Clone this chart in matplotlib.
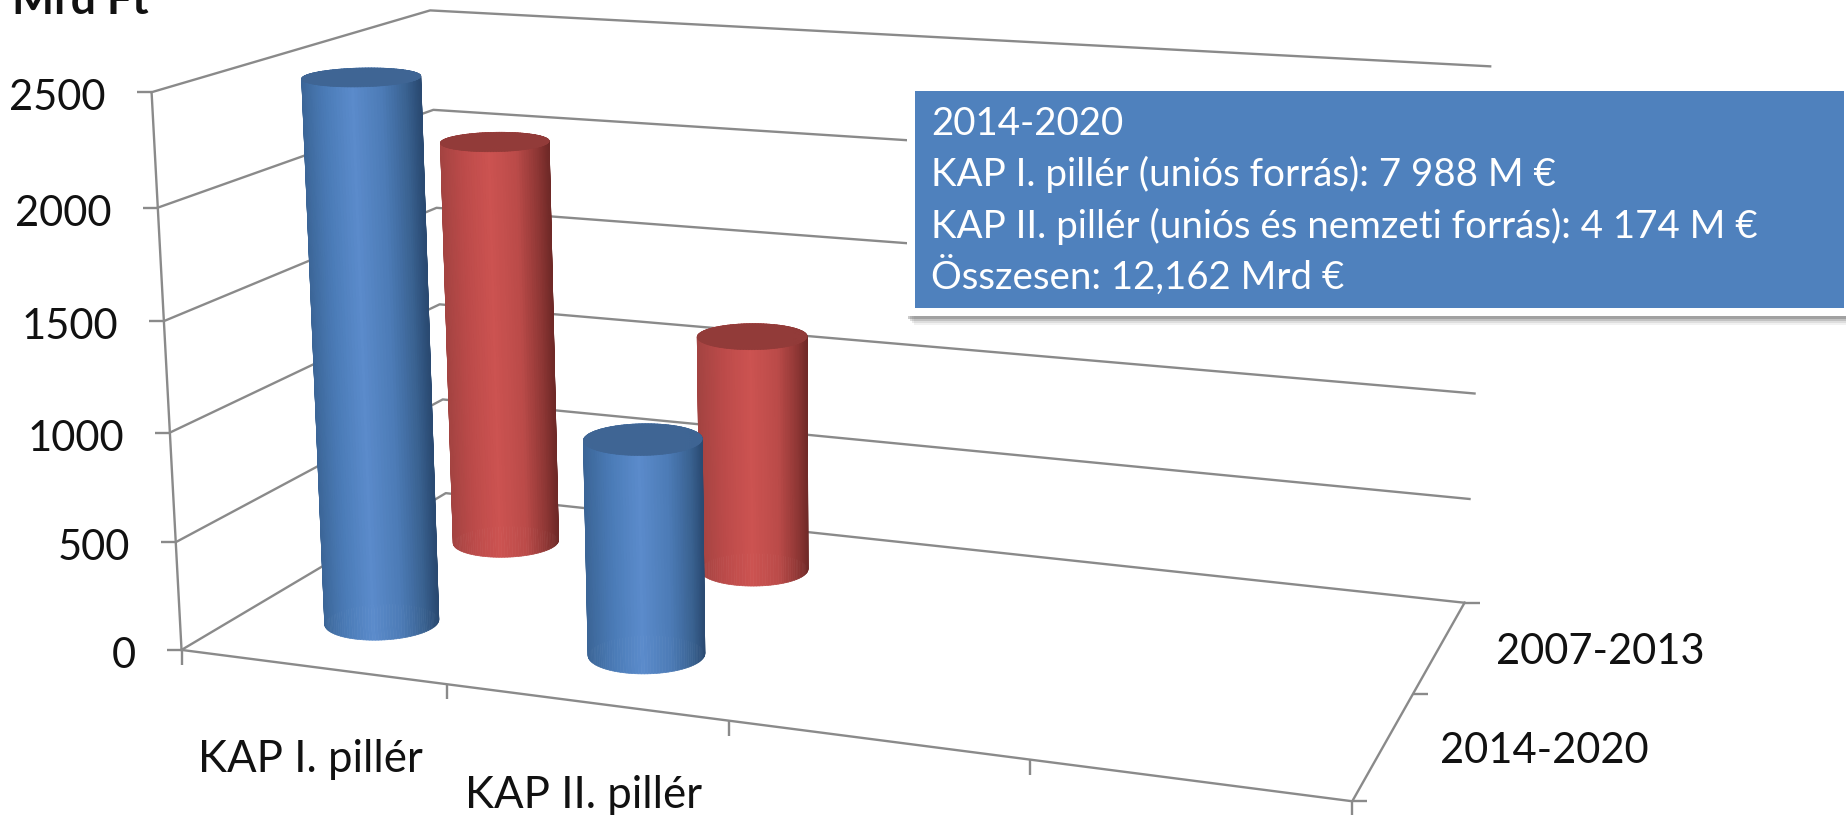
import numpy as np
import matplotlib
matplotlib.use("Agg")
import matplotlib.pyplot as plt
from matplotlib.colors import LinearSegmentedColormap
from matplotlib.markers import TICKLEFT, TICKRIGHT, TICKDOWN
from matplotlib.patches import Rectangle
from mpl_toolkits.mplot3d import proj3d

plt.rcParams['font.family'] = ['Lato', 'DejaVu Sans']

categories = ['KAP I. pillér', 'KAP II. pillér']
periods = ['2014-2020', '2007-2013']
values_2014 = [2500, 985]
values_2007 = [1990, 1145]
value_ticks = [0, 500, 1000, 1500, 2000, 2500]
box_lines = ['2014-2020',
             'KAP I. pillér (uniós forrás): 7 988 M €',
             'KAP II. pillér (uniós és nemzeti forrás): 4 174 M €',
             'Összesen: 12,162 Mrd €']

W, H = 1846, 815
GRAY = '#8a8a8a'
TEXT = '#111111'
N_SLOTS = 4
RADIUS = 0.197

blue_cm = LinearSegmentedColormap.from_list('blue', [(0, '#3b6596'), (.25, '#4b7cb8'), (.48, '#5b8bcb'),
                                                     (.72, '#4c7bb6'), (.9, '#3a6291'), (1, '#2a4a72')])
red_cm = LinearSegmentedColormap.from_list('red', [(0, '#a34341'), (.25, '#bd4b4a'), (.48, '#cc5351'),
                                                   (.72, '#bb4b49'), (.9, '#8f3735'), (1, '#6f2927')])

fig = plt.figure(figsize=(W/100, H/100), dpi=100)

# camera fitted to the corners of the Excel frame
s = 1391.0
cx, cy = 816.88, 377.01
ax = fig.add_axes([(cx-s/2)/W, (H-cy-s/2)/H, s/W, s/H], projection='3d', computed_zorder=False)
ax.set_xlim(0, N_SLOTS, view_margin=0)
ax.set_ylim(0, len(periods), view_margin=0)
ax.set_zlim(0, 2500, view_margin=0)
ax.view_init(14.211, -69.838, 0.104)
ax.set_proj_type('persp', focal_length=0.4348)
ax.set_box_aspect((2.0943, 1.0352, 1))
ax.set_axis_off()
ax.apply_aspect()

xmax, ymax = N_SLOTS, len(periods)
line = dict(color=GRAY, lw=1.7, zorder=1, clip_on=False)
for v in value_ticks:
    ax.plot([0, 0, xmax], [0, ymax, ymax], [v, v, v], **line)
ax.plot([0, 0], [0, 0], [0, 2500], **line)
ax.plot([0, xmax, xmax], [0, 0, ymax], [0, 0, 0], **line)

tick = dict(color=GRAY, ls='none', ms=11, mew=1.7, zorder=1, clip_on=False)
ax.plot([0]*len(value_ticks), [0]*len(value_ticks), value_ticks, marker=TICKLEFT, **tick)
ax.plot(list(range(N_SLOTS+1)), [0]*(N_SLOTS+1), [0]*(N_SLOTS+1), marker=TICKDOWN, **tick)
ax.plot([xmax]*(ymax+1), list(range(ymax+1)), [0]*(ymax+1), marker=TICKRIGHT, **tick)


def cylinder(xc, yc, height, cmap, top_color, z):
    theta = np.linspace(0, 2*np.pi, 121)
    zz = np.array([0, height])
    th, hh = np.meshgrid(theta, zz)
    xs = xc + RADIUS*np.cos(th)
    ys = yc + RADIUS*np.sin(th)
    # shade by the side of the column the normal points to on screen
    az = np.radians(-69.838)
    side = np.cos(th[:-1, :-1])*(-np.sin(az)) + np.sin(th[:-1, :-1])*np.cos(az)
    colors = cmap((side+1)/2)
    surf = ax.plot_surface(xs, ys, hh, facecolors=colors, shade=False, rstride=1, cstride=1,
                           linewidth=0.5, zorder=z)
    surf.set_edgecolor(colors.reshape(-1, 4))
    rr, th2 = np.meshgrid([0, RADIUS], theta)
    ax.plot_surface(xc + rr*np.cos(th2), yc + rr*np.sin(th2), np.full(rr.shape, height),
                    color=top_color, shade=False, rstride=1, cstride=1,
                    linewidth=0.5, edgecolor=top_color, zorder=z+0.5)


for i, v in enumerate(values_2007):
    cylinder(i+0.5, 1.5, v, red_cm, '#923b39', 2+i)
for i, v in enumerate(values_2014):
    cylinder(i+0.5, 0.5, v, blue_cm, '#3f6594', 4+i)


def label(x, y, z, text, dx, dy, **kw):
    xp, yp, _ = proj3d.proj_transform(x, y, z, ax.get_proj())
    ax.annotate(text, (xp, yp), xytext=(dx, dy), textcoords='offset pixels', va='center',
                color=TEXT, annotation_clip=False, **kw)


for v in value_ticks:
    label(0, 0, v, str(v), -46, -6, ha='right', fontsize=30)
for i, c in enumerate(categories):
    label(i+0.5, 0, 0, c, -2, -93, ha='center', fontsize=31.5)
for i, p in enumerate(periods):
    label(xmax, i+0.5, 0, p, 160, -6, ha='center', fontsize=30)

# overlay in pixel coordinates for the title and the text box
ov = fig.add_axes([0, 0, 1, 1], zorder=5)
ov.set_xlim(0, W)
ov.set_ylim(H, 0)
ov.axis('off')
for off, a in [(9, .08), (7, .12), (5, .2), (3, .3)]:
    ov.add_patch(Rectangle((907+off-2, 84+off), 939, 232, fc='#555555', ec='none', alpha=a))
ov.add_patch(Rectangle((907, 84), 939, 232, fc='white', ec='none'))
ov.add_patch(Rectangle((915, 91), 929, 217, fc='#4f81bd', ec='none'))
for txt, y in zip(box_lines, [124, 174, 226, 276]):
    ov.text(931, y, txt, color='white', fontsize=27.7, va='center', ha='left')
ov.text(12, 14, 'Mrd Ft', color=TEXT, fontsize=32, fontweight='bold', va='baseline', ha='left')

fig.savefig('out.png', dpi=100)
